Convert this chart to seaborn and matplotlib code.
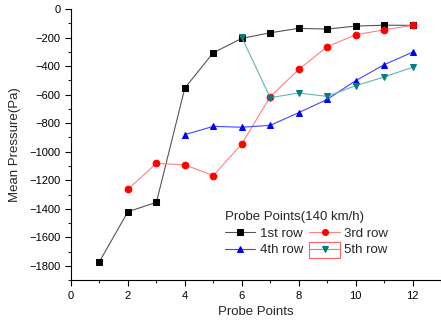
import matplotlib
matplotlib.use("Agg")
import matplotlib.pyplot as plt
from matplotlib.ticker import MultipleLocator
from matplotlib.patches import Rectangle
import seaborn as sns
import pandas as pd

x_row1 = [1, 2, 3, 4, 5, 6, 7, 8, 9, 10, 11, 12]
row1 = [-1770, -1420, -1355, -553, -306, -205, -166, -135, -140, -119, -113, -114]
x_row3 = [2, 3, 4, 5, 6, 7, 8, 9, 10, 11, 12]
row3 = [-1263, -1081, -1092, -1167, -945, -614, -423, -264, -180, -145, -114]
x_row4 = [4, 5, 6, 7, 8, 9, 10, 11, 12]
row4 = [-880, -822, -828, -815, -726, -633, -502, -390, -302]
x_row5 = [6, 7, 8, 9, 10, 11, 12]
row5 = [-198, -621, -588, -612, -537, -476, -408]
labels = ["1st row", "3rd row", "4th row", "5th row"]

sns.set_style("white")
plt.rcParams['font.family'] = ['Liberation Sans', 'DejaVu Sans']

fig = plt.figure(figsize=(4.41, 3.25), dpi=100)
ax = fig.add_axes([0.161, 0.138, 0.839, 0.834])

series = [
    (x_row1, row1, labels[0], "#555555", "black", "s"),
    (x_row3, row3, labels[1], "#ff8080", "red", "o"),
    (x_row4, row4, labels[2], "#4444ff", "blue", "^"),
    (x_row5, row5, labels[3], "#66b3b3", "#008080", "v"),
]
for xs, ys, lab, lc, mc, mk in series:
    df = pd.DataFrame({"x": xs, "y": ys})
    sns.lineplot(data=df, x="x", y="y", ax=ax, color=lc, lw=0.8,
                 marker=mk, markersize=4.8, markerfacecolor=mc,
                 markeredgecolor=mc, label=lab)

ax.set_xlim(0, 13)
ax.set_ylim(-1900, 0)
ax.xaxis.set_major_locator(MultipleLocator(2))
ax.xaxis.set_minor_locator(MultipleLocator(1))
ax.yaxis.set_major_locator(MultipleLocator(200))
ax.yaxis.set_minor_locator(MultipleLocator(100))
ax.tick_params(which='major', direction='out', length=4, width=0.8, labelsize=8,
               left=True, bottom=True, colors='black')
ax.tick_params(which='minor', direction='out', length=2, width=0.8, left=True, bottom=True)
for s in ['top', 'right']:
    ax.spines[s].set_visible(False)
for s in ['left', 'bottom']:
    ax.spines[s].set_color('black')
    ax.spines[s].set_linewidth(0.8)

ax.set_xlabel("Probe Points", fontsize=9.5)
ax.set_ylabel("Mean Pressure(Pa)", fontsize=9.5, labelpad=6)

handles, labs = ax.get_legend_handles_labels()
order = [0, 2, 1, 3]
leg = ax.legend([handles[i] for i in order], [labs[i] for i in order],
                ncol=2, title="Probe Points(140 km/h)", frameon=False,
                loc='upper left', bbox_to_anchor=(0.39, 0.29), fontsize=9.5,
                title_fontsize=9.5, handlelength=2.3, columnspacing=0.5,
                handletextpad=0.35, labelspacing=0.35, borderpad=0.2,
                markerscale=0.9)
leg._legend_box.align = "left"

# selection box drawn around the "5th row" legend key
fig.canvas.draw()
txt = [t for t in leg.get_texts() if t.get_text() == "5th row"][0]
bb = txt.get_window_extent()
W, H = fig.bbox.width, fig.bbox.height
x1 = bb.x0 - 4
x0 = x1 - 31
yc = (bb.y0 + bb.y1) / 2
fig.patches.append(Rectangle((x0 / W, (yc - 8) / H), (x1 - x0) / W, 16 / H,
                             transform=fig.transFigure, fill=False,
                             edgecolor="#ff6060", lw=0.8))

fig.savefig("out.png", dpi=100)
